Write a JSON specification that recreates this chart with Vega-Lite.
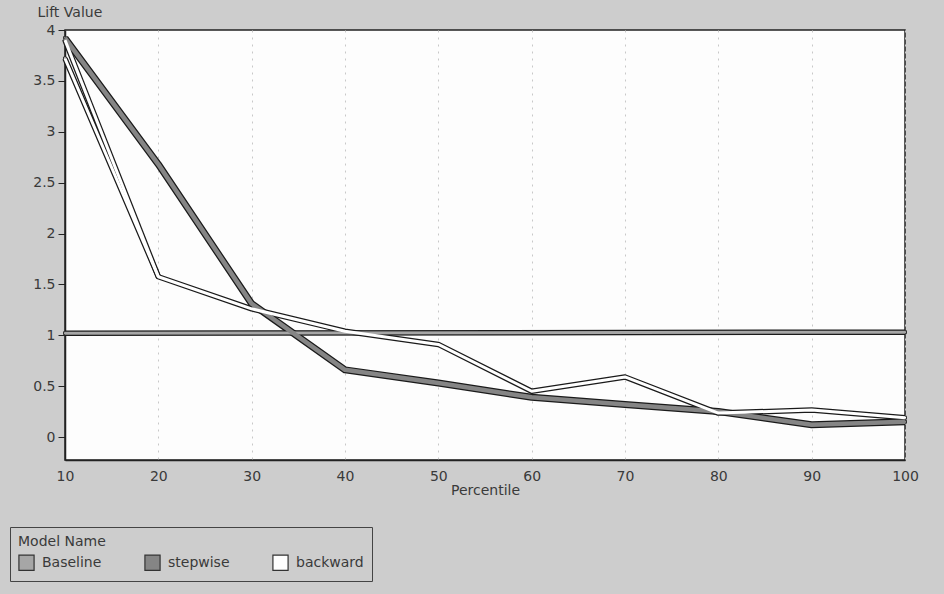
{
  "$schema": "https://vega.github.io/schema/vega-lite/v6.json",
  "width": 840,
  "height": 430,
  "autosize": {"type": "none"},
  "padding": {"left": 65, "top": 30, "right": 39, "bottom": 134},
  "background": "#cdcdcd",
  "config": {
    "font": "DejaVu Sans",
    "view": {"fill": "#fdfdfd", "stroke": "#222222", "strokeWidth": 1.5},
    "axis": {"labelFont": "DejaVu Sans", "titleFont": "DejaVu Sans", "labelFontSize": 14, "titleFontSize": 14, "labelColor": "#3a3a3a", "titleColor": "#3a3a3a", "titleFontWeight": "normal", "domainColor": "#222222", "tickColor": "#222222"},
    "legend": {"symbolStrokeColor": "#333333", "symbolStrokeWidth": 1.2}
  },
  "data": {
    "values": [
      {"series": "Baseline", "seg": "a", "pct": 10, "lift": 1.02},
      {"series": "Baseline", "seg": "a", "pct": 100, "lift": 1.03},
      {"series": "stepwise", "seg": "a", "pct": 10, "lift": 3.92},
      {"series": "stepwise", "seg": "a", "pct": 20, "lift": 2.68},
      {"series": "stepwise", "seg": "a", "pct": 30, "lift": 1.31},
      {"series": "stepwise", "seg": "a", "pct": 40, "lift": 0.66},
      {"series": "stepwise", "seg": "a", "pct": 50, "lift": 0.53},
      {"series": "stepwise", "seg": "a", "pct": 60, "lift": 0.39},
      {"series": "stepwise", "seg": "a", "pct": 70, "lift": 0.32},
      {"series": "stepwise", "seg": "a", "pct": 80, "lift": 0.25},
      {"series": "stepwise", "seg": "a", "pct": 90, "lift": 0.12},
      {"series": "stepwise", "seg": "a", "pct": 100, "lift": 0.15},
      {"series": "backward", "seg": "a", "pct": 10, "lift": 3.72},
      {"series": "backward", "seg": "a", "pct": 20, "lift": 1.575},
      {"series": "backward", "seg": "a", "pct": 30, "lift": 1.26},
      {"series": "backward", "seg": "a", "pct": 40, "lift": 1.04},
      {"series": "backward", "seg": "a", "pct": 50, "lift": 0.91},
      {"series": "backward", "seg": "a", "pct": 60, "lift": 0.45},
      {"series": "backward", "seg": "a", "pct": 70, "lift": 0.59},
      {"series": "backward", "seg": "a", "pct": 80, "lift": 0.235},
      {"series": "backward", "seg": "a", "pct": 90, "lift": 0.265},
      {"series": "backward", "seg": "a", "pct": 100, "lift": 0.19},
      {"series": "backward", "seg": "b", "pct": 10, "lift": 3.9},
      {"series": "backward", "seg": "b", "pct": 20, "lift": 1.575}
    ]
  },
  "encoding": {
    "x": {
      "field": "pct", "type": "quantitative",
      "scale": {"domain": [10, 100], "nice": false, "zero": false},
      "axis": {"title": "Percentile", "values": [10, 20, 30, 40, 50, 60, 70, 80, 90, 100], "ticks": false, "labelFlush": false, "labelPadding": 9, "titlePadding": 0, "grid": true, "gridColor": "#c8c8c8", "gridDash": [2, 5], "domainWidth": 1.5}
    },
    "y": {
      "field": "lift", "type": "quantitative",
      "scale": {"domain": [-0.226, 4], "nice": false, "zero": false},
      "axis": {"title": "Lift Value", "values": [0, 0.5, 1, 1.5, 2, 2.5, 3, 3.5, 4], "format": "~g", "tickSize": 7, "labelPadding": 3, "labelFlush": false, "grid": false, "titleAngle": 0, "titleAlign": "left", "titleBaseline": "middle", "titleX": -28, "titleY": -18, "domainWidth": 1.5}
    },
    "detail": [{"field": "series"}, {"field": "seg"}]
  },
  "layer": [
    {
      "mark": {"type": "square", "size": 9, "strokeWidth": 1, "opacity": 1, "filled": true},
      "encoding": {
        "fill": {
          "field": "series", "type": "nominal",
          "scale": {"domain": ["Baseline", "stepwise", "backward"], "range": ["#a6a6a6", "#858585", "#ffffff"]},
          "legend": {
            "title": "Model Name",
            "orient": "none",
            "legendX": -55,
            "legendY": 497,
            "direction": "horizontal",
            "symbolType": "square",
            "symbolSize": 230,
            "symbolStrokeWidth": 1.2,
            "symbolOpacity": 1,
            "labelFontSize": 14,
            "titleFontSize": 14,
            "titleFontWeight": "normal",
            "labelColor": "#3a3a3a",
            "titleColor": "#3a3a3a",
            "columnPadding": 40,
            "labelOffset": 7,
            "strokeColor": "#444444",
            "padding": 8,
            "labelFont": "DejaVu Sans",
            "titleFont": "DejaVu Sans"
          }
        },
        "stroke": {
          "field": "series", "type": "nominal",
          "scale": {"domain": ["Baseline", "stepwise", "backward"], "range": ["#333333", "#333333", "#333333"]},
          "legend": {
            "title": "Model Name",
            "orient": "none",
            "legendX": -55,
            "legendY": 497,
            "direction": "horizontal",
            "symbolType": "square",
            "symbolSize": 230,
            "symbolStrokeWidth": 1.2,
            "labelFontSize": 14,
            "titleFontSize": 14,
            "titleFontWeight": "normal",
            "labelColor": "#3a3a3a",
            "titleColor": "#3a3a3a",
            "columnPadding": 40,
            "labelOffset": 7,
            "strokeColor": "#444444",
            "padding": 8,
            "labelFont": "DejaVu Sans",
            "titleFont": "DejaVu Sans"
          }
        }
      }
    },
    {
      "mark": {"type": "line", "color": "#1a1a1a", "strokeJoin": "round"},
      "encoding": {
        "strokeWidth": {"condition": {"test": "datum.series === 'stepwise'", "value": 7}, "value": 5.5}
      }
    },
    {
      "mark": {"type": "line", "strokeJoin": "round"},
      "encoding": {
        "color": {
          "field": "series", "type": "nominal",
          "scale": {"domain": ["Baseline", "stepwise", "backward"], "range": ["#a6a6a6", "#858585", "#ffffff"]},
          "legend": null
        },
        "strokeWidth": {"condition": {"test": "datum.series === 'stepwise'", "value": 4.5}, "value": 3}
      }
    }
  ]
}
